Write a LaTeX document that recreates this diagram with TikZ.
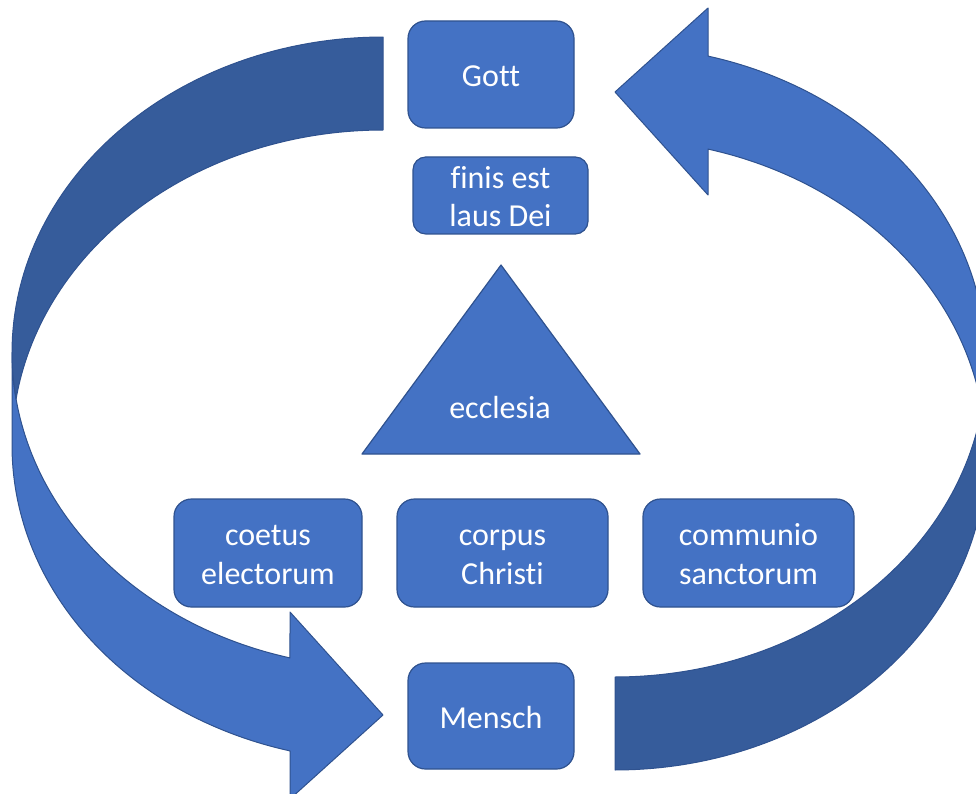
\documentclass[tikz,border=0pt]{standalone}
\usepackage{fontspec}
\setmainfont{Carlito}[Ligatures={NoCommon,NoContextual}]
\definecolor{boxfill}{HTML}{4472C4}
\definecolor{bandfill}{HTML}{4472C4}
\definecolor{banddark}{HTML}{365C9B}
\definecolor{edgecol}{HTML}{2F528F}
\newcommand\ls{\rule[-0.1em]{0pt}{0.95em}}
\newcommand\ringArrowShape{%
  \filldraw[lightband]
    plot[domain=180:104.52, samples=70] ({383+371*cos(\x)},{352.5+315.5*sin(\x)})
    -- (290,612) -- (383,715) -- (290,799) -- (290,750.9)
    -- plot[domain=104.52:180, samples=70] ({383+371*cos(\x)},{445.5+315.5*sin(\x)})
    -- cycle;
  \filldraw[darkband]
    plot[domain=270:188.47, samples=70] ({383+371*cos(\x)},{445.5+315.5*sin(\x)})
    -- plot[domain=171.53:270, samples=70] ({383+371*cos(\x)},{352.5+315.5*sin(\x)})
    -- cycle;
}
\begin{document}
\begin{tikzpicture}[x=1pt,y=-1pt,
  lightband/.style={fill=bandfill, draw=edgecol, line width=1pt, line join=round},
  darkband/.style={fill=banddark, draw=edgecol, line width=1pt, line join=round},
  box/.style={draw=edgecol, fill=boxfill, line width=1.2pt, text=white,
    align=center, font=\fontsize{32}{38.5}\selectfont, inner sep=0pt,
    rounded corners=#1},
  box/.default=17.5pt,
  label/.style={text=white, align=center, font=\fontsize{32}{38.5}\selectfont, inner sep=0pt}]
\useasboundingbox (0,0) rectangle (976,794);
\clip (0,0) rectangle (976,794);
% left curved arrow (Gott -> Mensch)
\ringArrowShape
% right curved arrow (Mensch -> Gott)
\begin{scope}[rotate around={180:(499,403.5)}]
  \ringArrowShape
\end{scope}
% boxes
\node[box, minimum width=166pt, minimum height=107pt] (gott) at (491,74.5) {\ls Gott};
\node[box=12.8pt, minimum width=175pt, minimum height=77pt] (finis) at (500.5,195.5) {\ls finis est\\\ls laus Dei};
\coordinate (apex) at (501,265);
\coordinate (bl) at (362,454);
\coordinate (br) at (640,454);
\draw[fill=boxfill, draw=edgecol, line width=1.2pt, line join=round] (apex) -- (br) -- (bl) -- cycle;
\node[label] (ecclesia) at (500,406) {\ls ecclesia};
\node[box, minimum width=188pt, minimum height=108pt] (coetus) at (268,553) {\ls coetus\\\ls electorum};
\node[box, minimum width=211pt, minimum height=108pt] (corpus) at (502.5,553) {\ls corpus\\\ls Christi};
\node[box, minimum width=211pt, minimum height=108pt] (communio) at (748.5,553) {\ls communio\\\ls sanctorum};
\node[box, minimum width=166pt, minimum height=106pt] (mensch) at (491,716) {\ls Mensch};
\end{tikzpicture}
\end{document}
